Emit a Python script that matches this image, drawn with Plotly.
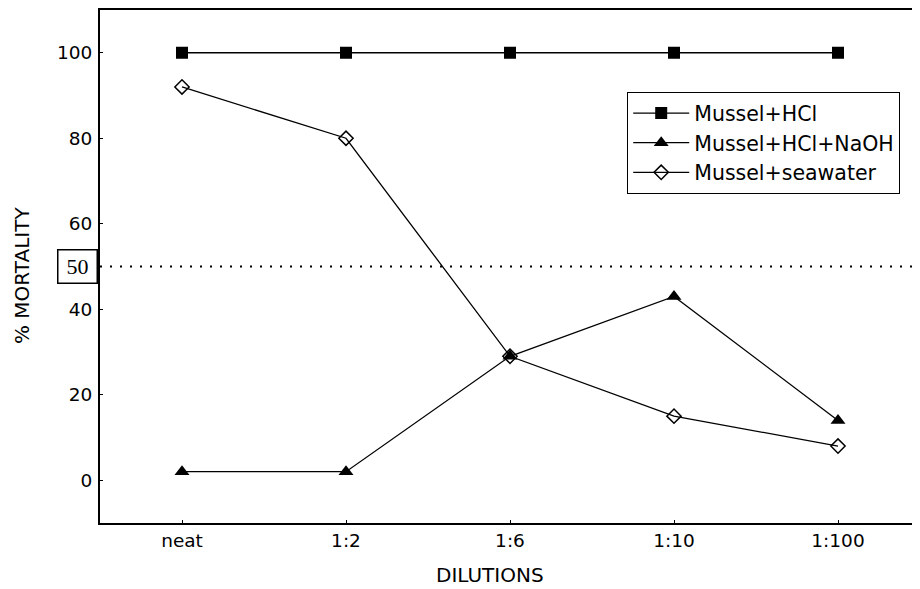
import plotly.graph_objects as go

# Data
dilutions = ["neat", "1:2", "1:6", "1:10", "1:100"]
mussel_hcl = [100, 100, 100, 100, 100]
mussel_hcl_naoh = [2, 2, 29, 43, 14]
mussel_seawater = [92, 80, 29, 15, 8]
y_ticks = [0, 20, 40, 60, 80, 100]
lc50 = 50

FONT = "DejaVu Sans"

fig = go.Figure()

fig.add_trace(go.Scatter(
    x=dilutions, y=mussel_hcl, name="Mussel+HCl",
    mode="lines+markers",
    line=dict(color="black", width=1.3),
    marker=dict(symbol="square", size=12, color="black"),
))
fig.add_trace(go.Scatter(
    x=dilutions, y=mussel_hcl_naoh, name="Mussel+HCl+NaOH",
    mode="lines+markers",
    line=dict(color="black", width=1.3),
    marker=dict(symbol="triangle-up", size=13, color="black"),
))
fig.add_trace(go.Scatter(
    x=dilutions, y=mussel_seawater, name="Mussel+seawater",
    mode="lines+markers",
    line=dict(color="black", width=1.3),
    marker=dict(symbol="diamond-open", size=11, color="black", line=dict(width=1.5)),
))

# 50% mortality reference line
fig.add_shape(type="line", xref="paper", x0=0, x1=1, yref="y", y0=lc50, y1=lc50,
              line=dict(color="black", width=2.2, dash="2px,8px"))

# boxed "50" label left of the axis
fig.add_annotation(
    xref="paper", x=(77 - 100) / 820, yref="y", y=lc50,
    text=str(lc50), showarrow=False,
    font=dict(family="Liberation Serif", size=22, color="black"),
    bordercolor="black", borderwidth=1.5, borderpad=1,
    width=36, height=30, bgcolor="white",
    xanchor="center", yanchor="middle",
)

# axis titles
fig.add_annotation(
    xref="paper", x=(22 - 100) / 820, yref="paper", y=(523 - 276) / 513,
    text="% MORTALITY", textangle=-90, showarrow=False,
    font=dict(family=FONT, size=20, color="black"),
    xanchor="center", yanchor="middle",
)
fig.add_annotation(
    xref="paper", x=(490 - 100) / 820, yref="paper", y=(523 - 575) / 513,
    text="DILUTIONS", showarrow=False,
    font=dict(family=FONT, size=20, color="black"),
    xanchor="center", yanchor="middle",
)

fig.update_xaxes(
    type="category", range=[-0.5, 4.5],
    showline=True, linecolor="black", linewidth=1.8, mirror=True,
    ticks="inside", ticklen=3, tickcolor="black",
    showgrid=False, zeroline=False,
    tickfont=dict(family=FONT, size=18.5, color="black"),
)
fig.update_yaxes(
    range=[-10, 110], tickvals=y_ticks,
    showline=True, linecolor="black", linewidth=2,
    ticks="inside", ticklen=3, tickcolor="black",
    showgrid=False, zeroline=False,
    tickfont=dict(family=FONT, size=18.5, color="black"),
    ticklabelstandoff=2,
)

# the page body adds an 8px offset, so the figure is 8px smaller and margins shifted
fig.update_layout(
    width=912, height=581,
    margin=dict(l=92, r=0, t=2, b=66),
    plot_bgcolor="white", paper_bgcolor="white",
    font=dict(family=FONT, color="black"),
    legend=dict(
        x=(627 - 100) / 820, y=(523 - 92) / 513,
        xanchor="left", yanchor="top",
        bordercolor="black", borderwidth=1.2, bgcolor="white",
        font=dict(family=FONT, size=20.5, color="black"),
        itemwidth=56,
        tracegroupgap=0,
    ),
)

fig.write_html("out.html")
